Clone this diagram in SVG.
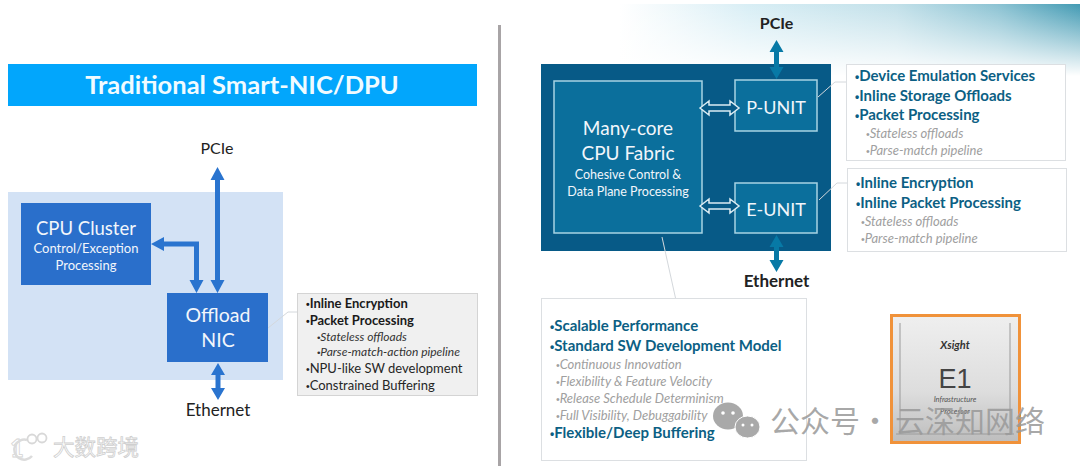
<svg xmlns="http://www.w3.org/2000/svg" width="1080" height="466" viewBox="0 0 1080 466">
<style>
text{font-family:Lato,"Liberation Sans",sans-serif}
.cjk{font-family:"Noto Sans CJK SC",sans-serif}
.d{font-family:"Liberation Sans",sans-serif;font-size:80%}
.c{text-anchor:middle}
.w{fill:#f2f6fb}
.k{fill:#222}
.b{font-weight:700;font-size:13px;fill:#1a1a1a}
.n{font-size:13px;fill:#262626}
.i{font-style:italic;font-size:12px;fill:#333}
.t{font-weight:700;font-size:15px;fill:#0c5f84}
.g{font-style:italic;font-size:13px;fill:#a0a0a0}
.bl{stroke:#2a74cf;stroke-width:5;fill:none}
.tl{stroke:#0779a6;stroke-width:5;fill:none}
.lead{stroke:#d4d8dc;stroke-width:1;fill:none}
.box{fill:#fff;stroke:#dcdfe2;stroke-width:1}
.u{fill:#0b6f9c;stroke:#a8d3e3;stroke-width:1.500}
</style>
<defs>
<linearGradient id="sky" gradientUnits="userSpaceOnUse" x1="620" y1="0" x2="1080" y2="0"><stop offset="0" stop-color="#fff"/><stop offset=".28" stop-color="#d8eef5"/><stop offset=".6" stop-color="#c2e0e9"/><stop offset=".82" stop-color="#8cc3d3"/><stop offset="1" stop-color="#429ab3"/></linearGradient>
<linearGradient id="fade" x1="0" y1="0" x2="0" y2="1"><stop offset="0" stop-color="#fff" stop-opacity="0"/><stop offset="1" stop-color="#fff"/></linearGradient>
<linearGradient id="chip" x1="0" y1="0" x2="0" y2="1"><stop offset="0" stop-color="#efefef"/><stop offset=".6" stop-color="#dddddd"/><stop offset="1" stop-color="#bdbdbd"/></linearGradient>
</defs>
<rect width="1080" height="466" fill="#fff"/>
<g id="sky-band">
<rect x="620" y="4" width="460" height="72" fill="url(#sky)"/>
<rect x="620" y="4" width="460" height="72" fill="url(#fade)"/>
</g>
<rect id="divider" x="498" y="25" width="3" height="441" fill="#a8a4a6"/>
<g id="title"><rect x="8" y="64" width="469" height="42" fill="#02a6fc"/><text x="242" y="94" class="c" font-size="25.500" font-weight="700" fill="#f0fbff">Traditional Smart-NIC/DPU</text></g>
<rect id="left-panel" x="8" y="192" width="275" height="188" fill="#d3e2f5"/>
<g id="cpu-cluster"><rect x="21" y="203" width="130" height="82" fill="#2a6fcb"/><text x="86" y="235" class="c w" font-size="18.500">CPU Cluster</text><text x="86" y="253" class="c w" font-size="13">Control/Exception</text><text x="86" y="270" class="c w" font-size="13">Processing</text></g>
<g id="offload-nic"><rect x="167" y="293" width="101" height="69" fill="#2a6fcb"/><text x="218" y="322" class="c w" font-size="19.500">Offload</text><text x="218" y="347" class="c w" font-size="19.500">NIC</text></g>
<g id="left-callout"><rect x="297.500" y="293.500" width="180" height="102" fill="#f0f0f0" stroke="#d4d4d4"/>
<text x="306" y="308" class="b"><tspan class="d">•</tspan>Inline Encryption</text><text x="306" y="325" class="b"><tspan class="d">•</tspan>Packet Processing</text><text x="317" y="341" class="i"><tspan class="d">•</tspan>Stateless offloads</text><text x="317" y="356" class="i"><tspan class="d">•</tspan>Parse-match-action pipeline</text><text x="306" y="373" class="n"><tspan class="d">•</tspan>NPU-like SW development</text><text x="306" y="390" class="n"><tspan class="d">•</tspan>Constrained Buffering</text></g>
<text id="left-pcie" x="217" y="154" class="c k" font-size="16">PCIe</text>
<text id="left-ethernet" x="218" y="416" class="c k" font-size="17">Ethernet</text>
<g id="right-panel"><rect x="541" y="64" width="290" height="187" fill="#075a87"/></g>
<g id="many-core"><rect x="554" y="81" width="148" height="152" class="u"/><text x="628" y="135" class="c w" font-size="19">Many-core</text><text x="628" y="160" class="c w" font-size="19">CPU Fabric</text><text x="628" y="179" class="c w" font-size="12.500">Cohesive Control &amp;</text><text x="628" y="196" class="c w" font-size="12.500">Data Plane Processing</text></g>
<g id="p-unit"><rect x="735" y="80" width="82" height="51" class="u"/><text x="776" y="114" class="c w" font-size="18">P-UNIT</text></g>
<g id="e-unit"><rect x="735" y="183" width="82" height="50" class="u"/><text x="776" y="216" class="c w" font-size="18">E-UNIT</text></g>
<g id="connectors">
<path class="bl" d="M217.500 180V282"/><path fill="#2a74cf" d="M217.500 167l7 13h-14zM217.500 293l-7-13h14z"/>
<path class="bl" d="M164 244H196.500V282"/><path fill="#2a74cf" d="M151 244l13-7v14zM196.500 293l-7-13h14z"/>
<path class="bl" d="M218 375V388"/><path fill="#2a74cf" d="M218 363l7 12h-14zM218 400l-7-12h14z"/>
<path class="tl" d="M776.500 52V68"/><path fill="#0779a6" d="M776.500 40l7 12h-14zM776.500 79l-7-12h14z"/>
<path class="tl" d="M776.500 246V260"/><path fill="#0779a6" d="M776.500 235l7 12h-14zM776.500 272l-7-12h14z"/>
<path fill="#075a87" stroke="#dcecf3" stroke-width="1.500" d="M700 108l9-7v4h21v-4l9 7-9 7v-4h-21v4z"/>
<path fill="#075a87" stroke="#dcecf3" stroke-width="1.500" d="M700 206l9-7v4h21v-4l9 7-9 7v-4h-21v4z"/>
<path class="lead" d="M268 328L288 312H297"/>
<path class="lead" d="M818 97L835 82H847"/>
<path class="lead" d="M819 200L837 183H847"/>
<path class="lead" d="M662 237L675.500 298"/>
</g>
<g id="callout-p"><rect x="846.500" y="64.500" width="219" height="96" class="box"/>
<text x="855" y="81" class="t"><tspan class="d">•</tspan>Device Emulation Services</text><text x="855" y="101" class="t"><tspan class="d">•</tspan>Inline Storage Offloads</text><text x="855" y="120" class="t"><tspan class="d">•</tspan>Packet Processing</text><text x="866" y="138" class="g"><tspan class="d">•</tspan>Stateless offloads</text><text x="866" y="155" class="g"><tspan class="d">•</tspan>Parse-match pipeline</text></g>
<g id="callout-e"><rect x="847.500" y="168.500" width="219" height="83" class="box"/>
<text x="856" y="188" class="t"><tspan class="d">•</tspan>Inline Encryption</text><text x="856" y="208" class="t"><tspan class="d">•</tspan>Inline Packet Processing</text><text x="861" y="226" class="g"><tspan class="d">•</tspan>Stateless offloads</text><text x="861" y="243" class="g"><tspan class="d">•</tspan>Parse-match pipeline</text></g>
<text id="right-pcie" x="776.500" y="29" class="c" font-size="16" font-weight="700" fill="#222">PCIe</text>
<text id="right-ethernet" x="776.500" y="287" class="c" font-size="17" font-weight="700" fill="#222">Ethernet</text>
<g id="callout-bottom"><rect x="541.500" y="298.500" width="265" height="162" class="box"/>
<text x="550" y="331" class="t"><tspan class="d">•</tspan>Scalable Performance</text><text x="550" y="351" class="t"><tspan class="d">•</tspan>Standard SW Development Model</text><text x="556" y="369" class="g"><tspan class="d">•</tspan>Continuous Innovation</text><text x="556" y="386" class="g"><tspan class="d">•</tspan>Flexibility &amp; Feature Velocity</text><text x="556" y="403" class="g"><tspan class="d">•</tspan>Release Schedule Determinism</text><text x="556" y="420" class="g"><tspan class="d">•</tspan>Full Visibility, Debuggability</text><text x="550" y="438" class="t"><tspan class="d">•</tspan>Flexible/Deep Buffering</text></g>
<g id="e1-chip"><rect x="891.500" y="315.500" width="128" height="127" fill="url(#chip)" stroke="#f0923a" stroke-width="3"/><path d="M900 323V433M1010 323V433M896 434H1014" fill="none" stroke="#9a9a9a"/>
<text x="955" y="349" class="c" font-size="11" font-style="italic" font-weight="700" fill="#333">Xsight</text><text x="955" y="388" class="c" font-size="27" fill="#444" style="font-family:'Liberation Sans',sans-serif">E1</text><text x="955" y="402" class="c" font-size="7.500" font-style="italic" fill="#555">Infrastructure</text><text x="955" y="414" class="c" font-size="7.500" font-style="italic" fill="#555">Processor</text></g>
<g id="watermark-wechat"><ellipse cx="728" cy="416" rx="15" ry="13.500" fill="#a9a9a9"/><ellipse cx="747.500" cy="427" rx="12.500" ry="11" fill="#a9a9a9" stroke="#fff"/><circle cx="723" cy="413" r="1.800" fill="#fff"/><circle cx="733" cy="413" r="1.800" fill="#fff"/><circle cx="743" cy="425" r="1.500" fill="#fff"/><circle cx="752" cy="425" r="1.500" fill="#fff"/><text y="432" font-size="30" fill="#999" fill-opacity=".85" class="cjk"><tspan x="770">公众号</tspan><tspan x="860">·</tspan><tspan x="895">云深知网络</tspan></text></g>
<g id="watermark-left"><text x="10" y="457" font-size="24" font-weight="700" fill="#fff" stroke="#d4d4d4" stroke-width=".8">1</text><path d="M27 440A10 10 0 1 0 32 456" fill="none" stroke="#dcdcdc" stroke-width="2.500"/><circle cx="32" cy="439" r="4.500" fill="none" stroke="#d8d8d8" stroke-width="1.800"/><circle cx="42" cy="438" r="4.500" fill="none" stroke="#d8d8d8" stroke-width="1.800"/><text x="53" y="455" font-size="21.500" fill="#fff" stroke="#cfcfcf" stroke-width=".8" class="cjk">大数跨境</text></g>
</svg>
